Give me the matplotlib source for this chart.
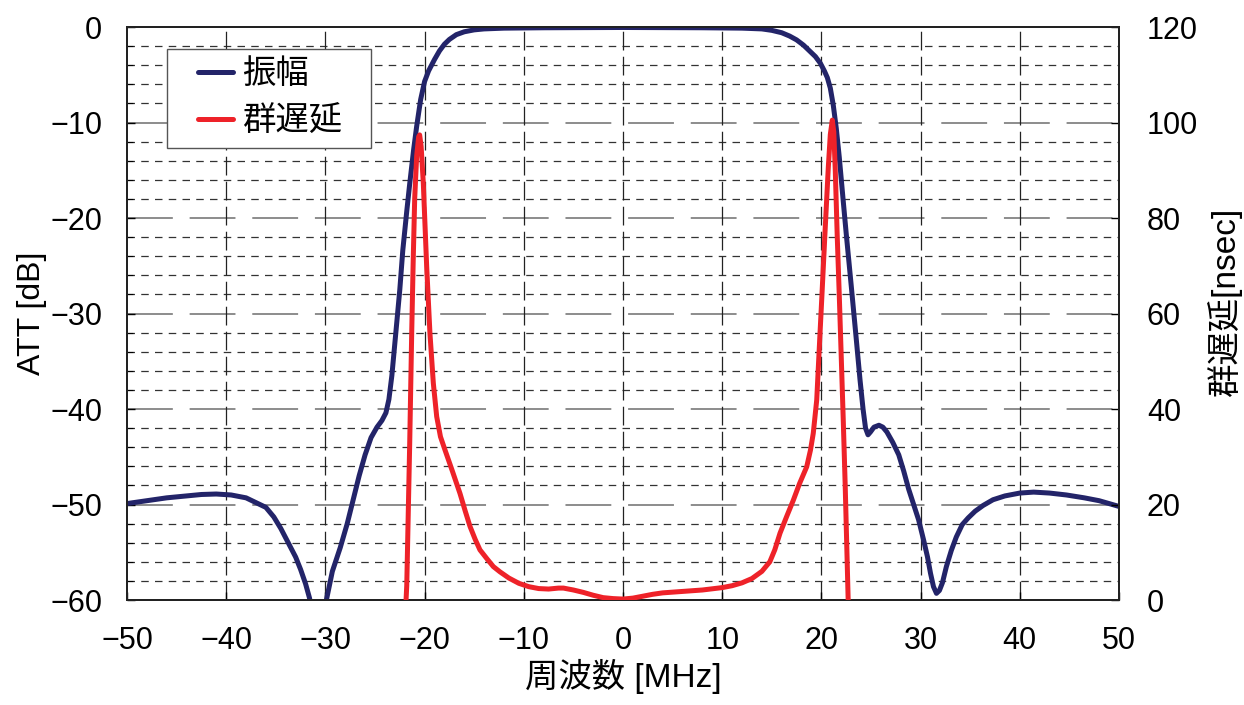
import matplotlib
matplotlib.use('Agg')
import matplotlib.pyplot as plt
from matplotlib.legend_handler import HandlerLine2D

plt.rcParams['font.family'] = ['Liberation Sans', 'Noto Sans CJK JP']

# 振幅 (attenuation, dB)
amp_freq = [-50, -48, -46, -44, -42.5, -41, -39.5, -38, -37, -36, -35.2, -34.5,
            -33.8, -33, -32.5, -32, -31.6, -31.3, -30.2, -29.8, -29.3, -28.5,
            -27.8, -27.2, -26.6, -26, -25.4, -24.8, -24.3, -23.9, -23.6, -23.3,
            -22.9, -22.5, -22.2, -21.8, -21.5, -21.1, -20.8, -20.4, -20, -19.6,
            -19.0, -18.5, -18, -17.5, -16.8, -16, -15, -14, -12, -8, 0, 8, 12,
            14, 15, 16, 16.8, 17.5, 18.2, 18.8, 19.4, 19.9, 20.3, 20.6, 20.9,
            21.2, 21.5, 21.8, 22.2, 22.5, 23, 23.5, 23.9, 24.2, 24.45, 24.7,
            24.95, 25.3, 25.8, 26.2, 26.6, 27.2, 27.8, 28.3, 28.8, 29.3, 29.8,
            30.3, 30.7, 31.0, 31.3, 31.6, 31.9, 32.2, 32.6, 33.1, 33.6, 34.2,
            34.8, 35.5, 36.3, 37.3, 38.5, 40, 41.4, 43, 44.7, 46.5, 48, 49, 50]
amp_db = [-49.9, -49.6, -49.3, -49.1, -48.95, -48.9, -49.0, -49.3, -49.8, -50.3,
          -51.3, -52.5, -53.9, -55.5, -56.8, -58.3, -59.8, -61.5, -61.5, -59.5,
          -57, -54.5, -52, -49.5, -47, -44.8, -43, -41.9, -41.2, -40.4, -39,
          -36.5, -32, -27.5, -23.4, -19.3, -16.4, -12.8, -10.4, -7.6, -5.7,
          -4.6, -3.4, -2.5, -1.8, -1.3, -0.8, -0.5, -0.3, -0.2, -0.12, -0.08,
          -0.05, -0.08, -0.12, -0.2, -0.35, -0.6, -0.95, -1.35, -1.9, -2.5,
          -3.1, -3.8, -4.6, -5.3, -6.4, -8.2, -10.6, -13.6, -18.2, -21.6, -27,
          -32.5, -37, -40, -42, -42.7, -42.4, -41.9, -41.7, -41.9, -42.4, -43.5,
          -44.8, -46.5, -48.4, -50, -51.6, -53.7, -55.5, -57.2, -58.6, -59.3,
          -59.0, -58.2, -56.5, -54.8, -53.4, -52.1, -51.4, -50.7, -50.1, -49.5,
          -49.1, -48.8, -48.7, -48.8, -49, -49.3, -49.6, -49.9, -50.2]

# 群遅延 (group delay, nsec)
gd_freq = [-22.0, -21.87, -21.8, -21.65, -21.5, -21.3, -21.15, -21.0, -20.8,
           -20.6, -20.5, -20.35, -20.13, -19.79, -19.46, -19.12, -18.78, -18.4,
           -17.94, -17.2, -16.43, -15.9, -15.42, -14.9, -14.42, -13.7, -13.07,
           -12.4, -11.5, -10.5, -9.5, -8.5, -7.5, -6.5, -6, -5, -4, -3, -2, -1,
           0, 1, 2, 3, 4, 6, 8, 10, 11, 12, 13, 14, 14.8, 15.3, 15.83, 16.5,
           17.17, 17.8, 18.52, 18.9, 19.18, 19.53, 19.86, 20.03, 20.36, 20.7,
           20.9, 21.1, 21.25, 21.4, 21.6, 21.8, 22.0, 22.2, 22.4, 22.6, 22.7,
           22.85]
gd_ns = [-5, 0, 3, 18, 33, 56, 71, 84, 93, 97, 97.4, 95, 87.3, 69.8, 55.8, 45.4,
         38.4, 34.2, 31.4, 27, 22.3, 18.6, 15.4, 12.7, 10.5, 8.6, 7.0, 5.9, 4.6,
         3.5, 2.8, 2.4, 2.3, 2.5, 2.5, 2.1, 1.6, 1.0, 0.5, 0.3, 0.2, 0.4, 0.8,
         1.2, 1.5, 1.8, 2.1, 2.6, 3.0, 3.6, 4.5, 6, 8, 10.5, 14, 17.5, 20.9,
         24.4, 27.9, 31.4, 34.9, 41.9, 55.8, 62.8, 76.8, 90.7, 97.5, 100.5, 98,
         90, 76, 64, 51, 38, 24, 8, 0, -8]

x_ticks = list(range(-50, 51, 10))
att_ticks = list(range(-60, 1, 10))
gd_ticks = list(range(0, 121, 20))

fig = plt.figure(figsize=(12.44, 7.05), dpi=100)
ax = fig.add_axes([0.1021, 0.1489, 0.7974, 0.8128])
ax2 = ax.twinx()

ax.set_xlim(-50, 50)
ax.set_ylim(-60, 0)
ax2.set_ylim(0, 120)

ax.set_xticks(x_ticks)
ax.set_yticks(att_ticks)
ax.set_yticks(range(-60, 1, 2), minor=True)
ax2.set_yticks(gd_ticks)

# grid: fine dashes every 2 dB, long dashes every 10 dB and 10 MHz
for yv in range(-58, 0, 2):
    if yv % 10 == 0:
        ax.axhline(yv, color='#6e6e6e', lw=1.1, dashes=(30, 11), zorder=0)
    else:
        ax.axhline(yv, color='#333333', lw=0.9, dashes=(6, 5), zorder=0)
for xv in x_ticks[1:-1]:
    ax.axvline(xv, color='#222222', lw=0.9, dashes=(15, 5), zorder=0)

blue, = ax.plot(amp_freq, amp_db, color='#232469', lw=3.6, solid_capstyle='round',
                solid_joinstyle='round', label='振幅', zorder=3)
red, = ax2.plot(gd_freq, gd_ns, color='#ee2229', lw=3.6, solid_capstyle='round',
                solid_joinstyle='round', label='群遅延', zorder=3)

for a in (ax, ax2):
    for s in a.spines.values():
        s.set_linewidth(1.4)
        s.set_color('#222222')

ax.tick_params(axis='both', which='major', direction='in', length=6, width=1,
               labelsize=22, pad=18)
ax.tick_params(axis='y', which='minor', direction='in', length=4, width=0.8)
ax.tick_params(axis='x', pad=19)
ax2.tick_params(axis='y', direction='in', length=6, width=1, labelsize=22, pad=20)

ax.set_xlabel('周波数 [MHz]', fontsize=24, labelpad=2)
ax.set_ylabel('ATT [dB]', fontsize=23, labelpad=2)
ax2.set_ylabel('群遅延[nsec]', fontsize=24)
ax2.yaxis.set_label_coords(1.089, 0.52)

handler = HandlerLine2D(xpad=0.63)
leg = ax2.legend(handles=[blue, red], loc='upper left',
                 bbox_to_anchor=(0.0403, 0.794, 0.2056, 0.167), mode='expand',
                 fontsize=24, frameon=True, fancybox=False, handlelength=1.68,
                 handletextpad=0.26, borderpad=0.3, borderaxespad=0,
                 labelspacing=0.5, handler_map={blue: handler, red: handler})
leg.get_frame().set_edgecolor('#555555')
leg.get_frame().set_linewidth(1.0)
leg.get_frame().set_alpha(1)
leg.set_zorder(10)

fig.savefig('out.png', dpi=100)
